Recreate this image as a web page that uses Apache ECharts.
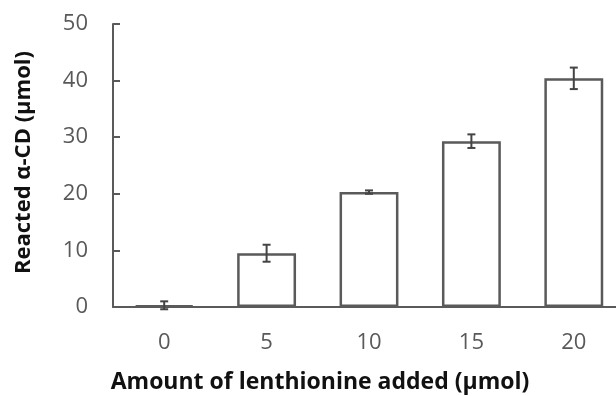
<!DOCTYPE html>
<html><head><meta charset="utf-8">
<script src="https://cdn.jsdelivr.net/npm/echarts@6/dist/echarts.min.js"></script>
<style>html,body{margin:0;padding:0;background:#fff}#c{width:616px;height:396px}</style>
</head><body><div id="c"></div>
<script>
var categories = ['0', '5', '10', '15', '20'];
var values = [0.3, 9.5, 20.3, 29.3, 40.4];
var errors = [0.7, 1.5, 0.3, 1.2, 1.9];
var yTicks = [0, 10, 20, 30, 40, 50];

var chart = echarts.init(document.getElementById('c'));
var axisColor = '#5a5a5a';
var errData = categories.map(function (c, i) { return [i, values[i] - errors[i], values[i] + errors[i]]; });
chart.setOption({
  animation: false,
  grid: { left: 113, top: 24, width: 512, height: 283, outerBoundsMode: 'none', containLabel: false },
  xAxis: {
    type: 'category', data: categories,
    axisLine: { lineStyle: { color: axisColor, width: 2 } },
    axisTick: { show: false },
    axisLabel: { color: '#595959', fontSize: 22, fontFamily: 'Open Sans', margin: 25 },
    name: 'Amount of lenthionine added (µmol)', nameLocation: 'middle', nameGap: 64,
    nameTextStyle: { color: '#111', fontSize: 23, fontWeight: 'bold', fontFamily: 'Open Sans', padding: [0, 98, 0, 0] }
  },
  yAxis: {
    type: 'value', min: yTicks[0], max: yTicks[yTicks.length - 1], interval: 10,
    splitLine: { show: false },
    axisLine: { show: true, lineStyle: { color: axisColor, width: 2 } },
    axisTick: { show: true, inside: true, length: 7, lineStyle: { color: axisColor, width: 2 } },
    axisLabel: { color: '#595959', fontSize: 22, fontFamily: 'Open Sans', margin: 25 },
    name: 'Reacted α-CD (µmol)', nameLocation: 'middle', nameGap: 78,
    nameTextStyle: { color: '#111', fontSize: 22, fontWeight: 'bold', fontFamily: 'Open Sans', padding: [0, 0, 0, 6] }
  },
  series: [{
    type: 'bar', data: values, barWidth: '57.5%',
    itemStyle: { color: '#fff', borderColor: axisColor, borderWidth: 2.5 }
  }, {
    type: 'custom', data: errData, z: 10,
    renderItem: function (params, api) {
      var x = api.value(0);
      var lo = api.coord([x, api.value(1)]);
      var hi = api.coord([x, api.value(2)]);
      var w = 4;
      var st = { stroke: '#444', lineWidth: 2 };
      return { type: 'group', children: [
        { type: 'line', shape: { x1: lo[0], y1: lo[1], x2: hi[0], y2: hi[1] }, style: st },
        { type: 'line', shape: { x1: lo[0] - w, y1: lo[1], x2: lo[0] + w, y2: lo[1] }, style: st },
        { type: 'line', shape: { x1: hi[0] - w, y1: hi[1], x2: hi[0] + w, y2: hi[1] }, style: st }
      ] };
    }
  }]
});
</script></body></html>
